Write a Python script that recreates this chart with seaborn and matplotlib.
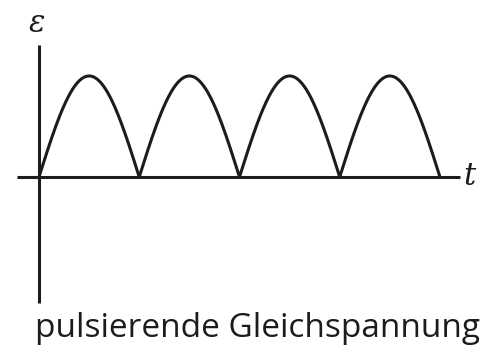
import numpy as np
import pandas as pd
import seaborn as sns
import matplotlib
matplotlib.use("Agg")
import matplotlib.pyplot as plt

# Werte aus dem Bild: 4 Halbwellen, Amplitude 1 (gleichgerichtete Sinusspannung)
n_halbwellen = 4
amplitude = 1.0
caption = "pulsierende Gleichspannung"
y_label = "ε"
x_label = "t"

t = np.linspace(0, n_halbwellen, 800)
df = pd.DataFrame({"t": t, "eps": amplitude * np.abs(np.sin(np.pi * t))})

sns.set_style("white")
fig = plt.figure(figsize=(4.96, 3.56), dpi=100)
ax = fig.add_axes([0, 0, 1, 1])

farbe = "#1c1c1c"
sns.lineplot(data=df, x="t", y="eps", ax=ax, color=farbe, linewidth=2.2)

# Achsen als Linien
ax.plot([-0.22, 4.2], [0, 0], color=farbe, linewidth=2.2, solid_capstyle="butt")
ax.plot([0, 0], [1.307, -1.25], color=farbe, linewidth=2.2, solid_capstyle="butt")

ax.text(-0.02, 1.52, y_label, fontsize=22, family="DejaVu Serif", style="italic",
        ha="center", va="center", color=farbe)
ax.text(4.23, 0.0, x_label, fontsize=22, family="DejaVu Serif", style="italic",
        ha="left", va="center", color=farbe)
ax.text(2.175, -1.5, caption, fontsize=24, family="Open Sans",
        ha="center", va="center", color=farbe)

ax.set_xlim(-0.389, 4.559)
ax.set_ylim(-1.772, 1.752)
ax.set_axis_off()

fig.savefig("out.png", dpi=100)
